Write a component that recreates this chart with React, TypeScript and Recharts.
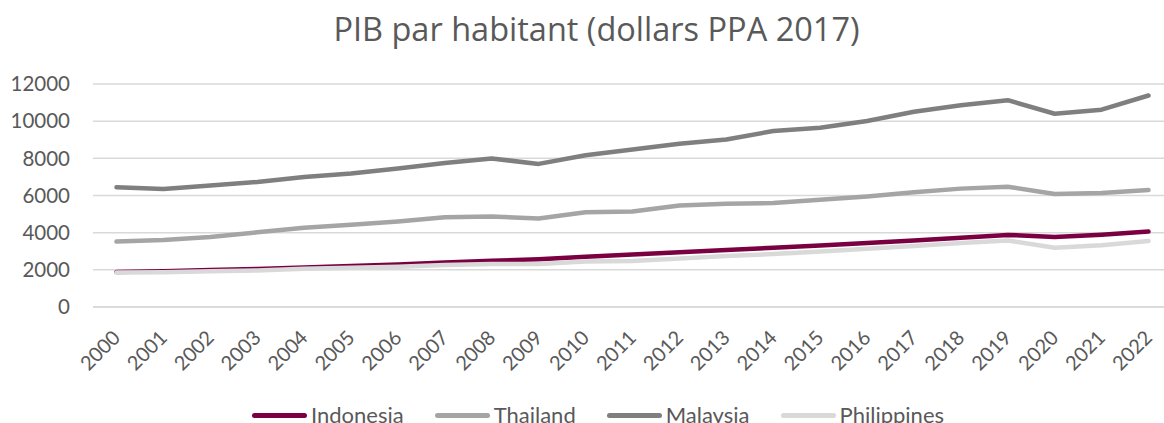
import React from "react";
import { LineChart, Line, XAxis, YAxis, CartesianGrid, Legend } from "recharts";

const years = ["2000","2001","2002","2003","2004","2005","2006","2007","2008","2009","2010","2011","2012","2013","2014","2015","2016","2017","2018","2019","2020","2021","2022"];
const indonesia = [1890,1930,1990,2050,2120,2200,2290,2390,2490,2570,2700,2820,2940,3070,3190,3310,3440,3580,3730,3880,3770,3890,4060];
const thailand = [3520,3600,3770,4020,4270,4420,4600,4830,4870,4760,5100,5140,5460,5560,5590,5770,5950,6170,6370,6470,6080,6130,6290];
const malaysia = [6440,6350,6540,6730,7000,7180,7450,7750,7990,7700,8170,8480,8780,9010,9470,9650,10010,10510,10860,11130,10400,10620,11380];
const philippines = [1850,1870,1920,1970,2060,2110,2170,2260,2320,2310,2450,2480,2610,2740,2850,2980,3130,3280,3440,3580,3190,3320,3550];
const yTicks = [0, 2000, 4000, 6000, 8000, 10000, 12000];

const seriesNames = ["Indonesia", "Thailand", "Malaysia", "Philippines"];
const seriesColors = ["#7B0041", "#A5A5A5", "#7F7F7F", "#D9D9D9"];
const seriesValues = [indonesia, thailand, malaysia, philippines];

const data = years.map((y, i) => {
  const row: Record<string, string | number> = { year: y };
  seriesNames.forEach((n, k) => { row[n] = seriesValues[k][i]; });
  return row;
});

const FONT = "Lato, 'Open Sans', sans-serif";
const TEXT = "#595959";

const XTick = (props: any) => {
  const { x, y, payload } = props;
  const ty = y + 27;
  return (
    <text x={x} y={ty} dy="0.35em" textAnchor="end" fill={TEXT} fontSize={20} fontFamily={FONT} transform={`rotate(-45, ${x}, ${ty})`}>
      {payload.value}
    </text>
  );
};

const LegendContent = (props: any) => {
  const payload = [...(props.payload || [])].sort(
    (a: any, b: any) => seriesNames.indexOf(a.value) - seriesNames.indexOf(b.value)
  );
  return (
    <div style={{ display: "flex", alignItems: "center", height: 24 }}>
      {payload.map((p: any) => (
        <div key={p.value} style={{ display: "flex", alignItems: "center", marginRight: 31 }}>
          <span style={{ display: "inline-block", width: 55, height: 5, borderRadius: 3, background: p.color, marginRight: 4 }} />
          <span style={{ fontFamily: FONT, fontSize: 22, color: TEXT, lineHeight: "24px", whiteSpace: "nowrap" }}>{p.value}</span>
        </div>
      ))}
    </div>
  );
};

export default function App() {
  return (
    <div style={{ position: "fixed", left: 0, top: 0, width: 1164, height: 423, overflow: "hidden", background: "#fff" }}>
      <div style={{ position: "absolute", left: 0, top: 13, width: 1193, textAlign: "center", fontFamily: "'Open Sans', sans-serif", fontSize: 32.5, color: TEXT, lineHeight: "32px", whiteSpace: "nowrap" }}>
        PIB par habitant (dollars PPA 2017)
      </div>
      <LineChart width={1190} height={440} data={data} margin={{ top: 84, right: 18, bottom: 0, left: 0 }}>
        <CartesianGrid vertical={false} stroke="#D9D9D9" strokeWidth={1.5} />
        <XAxis dataKey="year" padding={{ left: 23.5, right: 23.5 }} axisLine={{ stroke: "#D9D9D9", strokeWidth: 1.5 }} tickLine={false} tickSize={0} tickMargin={0} height={109} interval={0} tick={<XTick />} />
        <YAxis width={93} domain={[0, 12000]} ticks={yTicks} axisLine={false} tickLine={false} tickSize={0} tickMargin={23} tick={{ fill: TEXT, fontSize: 20.5, fontFamily: FONT }} />
        <Legend verticalAlign="bottom" height={20} content={<LegendContent />} wrapperStyle={{ position: "absolute", left: 252, top: 403, bottom: "auto", width: "auto", height: 24 }} />
        {seriesNames.map((n, k) => (
          <Line key={n} dataKey={n} name={n} type="linear" stroke={seriesColors[k]} strokeWidth={4.5} strokeLinecap="round" strokeLinejoin="round" dot={false} activeDot={false} isAnimationActive={false} />
        ))}
      </LineChart>
    </div>
  );
}
